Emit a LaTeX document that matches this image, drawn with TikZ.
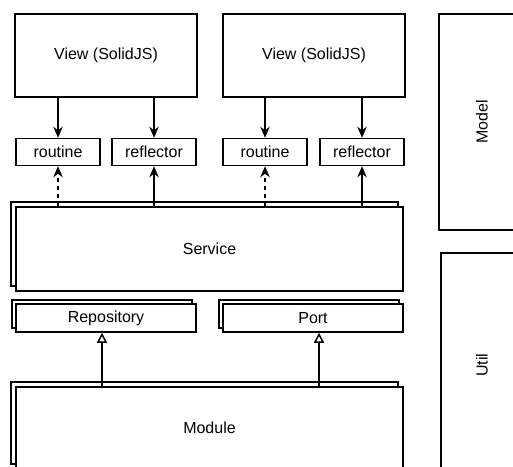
\documentclass[tikz,border=0pt]{standalone}
\usepackage{fontspec}
\setmainfont{Liberation Sans}
\usetikzlibrary{arrows.meta,shadows}
\begin{document}
\begin{tikzpicture}[x=1pt,y=-1pt,
  line width=1.5pt,
  box/.style={draw=black,fill=white,inner sep=0pt,font=\fontsize{16}{19}\selectfont},
  stack/.style={box,copy shadow={shadow xshift=-5pt,shadow yshift=5pt}},
  stacksmall/.style={box,copy shadow={shadow xshift=-4pt,shadow yshift=4pt}},
  call/.style={-{Stealth[length=11pt,width=9.5pt,inset=3.5pt]}},
  realize/.style={-{Triangle[open,length=10pt,width=10pt]}},
  dashline/.style={dashed,dash pattern=on 4pt off 4pt}]
\useasboundingbox (0,0) rectangle (513,466);
\clip (0,0) rectangle (513,466);

% side layers
\node[box,minimum width=90pt,minimum height=216pt] (model) at (484,122) {};
\node[rotate=90,font=\fontsize{16}{19}\selectfont] (modeltxt) at (482,122) {Model};
\node[box,minimum width=90pt,minimum height=230pt] (util) at (486,368) {};
\node[rotate=90,font=\fontsize{16}{19}\selectfont] (utiltxt) at (482,365) {Util};

% views
\node[box,minimum width=182pt,minimum height=83pt] (view1) at (106,55.5) {View (SolidJS)};
\node[box,minimum width=182pt,minimum height=83pt] (view2) at (314,55.5) {View (SolidJS)};

% routine / reflector pairs
\node[box,minimum width=84pt,minimum height=27pt] (rt1) at (58,152) {routine};
\node[box,minimum width=84pt,minimum height=27pt] (rf1) at (154,152) {reflector};
\node[box,minimum width=84pt,minimum height=27pt] (rt2) at (265,152) {routine};
\node[box,minimum width=84pt,minimum height=27pt] (rf2) at (362,152) {reflector};

% service, repository/port, module
\node[stack,minimum width=387pt,minimum height=84pt] (svc) at (209.5,249) {Service};
\node[stacksmall,minimum width=180pt,minimum height=28pt] (repo) at (106,318) {Repository};
\node[stacksmall,minimum width=180pt,minimum height=28pt] (port) at (313,318) {Port};
\node[stack,minimum width=387pt,minimum height=82pt] (mod) at (209.5,428) {Module};

% view -> routine / reflector
\draw[call] (view1.south -| rt1) -- (rt1.north);
\draw[call] (view1.south -| rf1) -- (rf1.north);
\draw[call] (view2.south -| rt2) -- (rt2.north);
\draw[call] (view2.south -| rf2) -- (rf2.north);

% service -> routine (dashed) / reflector
\draw[call,dashline] (svc.north -| rt1) -- (rt1.south);
\draw[call] (svc.north -| rf1) -- (rf1.south);
\draw[call,dashline] (svc.north -| rt2) -- (rt2.south);
\draw[call] (svc.north -| rf2) -- (rf2.south);

% module realizes repository / port
\draw[realize] ([xshift=-4pt]repo.south |- mod.north) -- ([xshift=-4pt]repo.south);
\draw[realize] ([xshift=6pt]port.south |- mod.north) -- ([xshift=6pt]port.south);
\end{tikzpicture}
\end{document}
